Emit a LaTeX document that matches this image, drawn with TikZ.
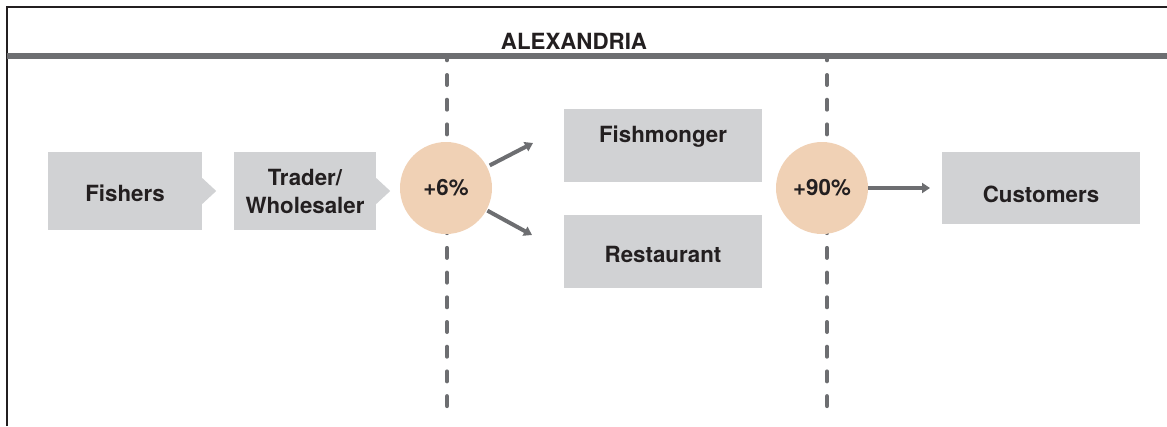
\documentclass[tikz,border=0pt]{standalone}
\usepackage{fontspec}
\setmainfont{TeX Gyre Heros}
\usetikzlibrary{arrows.meta}
\definecolor{boxgray}{HTML}{D1D2D4}
\definecolor{peach}{HTML}{F0D1B5}
\definecolor{linegray}{HTML}{6D6E71}
\definecolor{ink}{HTML}{231F20}

\begin{document}
\begin{tikzpicture}[x=1pt,y=-1pt,font=\fontsize{22.3}{28}\selectfont\bfseries,text=ink]
  \def\w{4}
  \def\tip{14}

\tikzstyle{box}=[rectangle,fill=boxgray,minimum height=78pt,inner sep=0pt,align=center]
\tikzstyle{low}=[text height=21pt,text depth=0pt]
\tikzstyle{topbox}=[box,minimum height=73pt,text height=16pt,text depth=21.5pt]
\tikzstyle{rate}=[circle,fill=peach,minimum size=92pt,inner sep=0pt]
\tikzstyle{flow}=[draw=linegray,line width=\w pt,-{Triangle[length=8pt,width=10pt]}]
\tikzstyle{divider}=[draw=linegray,line width=\w pt,line cap=round,dash pattern=on 10pt off 14.7pt,dash phase=6.7pt]

\useasboundingbox (0,0) rectangle (1167,426);
% frame and header
\draw[ink,line width=1.3pt] (7,426) -- (7,7) -- (1167,7);
\draw[divider] (447,57) -- (447,408.5);
\draw[divider] (827,57) -- (827,408.5);
\draw[linegray,line width=5.5pt] (7,56) -- (1167,56);
\node (T) at (574,41) {ALEXANDRIA};
% chain
\node[box,low,minimum width=154pt] (P1) at (125,191) {Fishers};
\fill[boxgray] ([yshift=13pt]P1.east) -- ([xshift=\tip pt]P1.east) -- ([yshift=-13pt]P1.east) -- cycle;
\node[box,minimum width=142pt] (P2) at (305,191) {Trader/\\Wholesaler};
\fill[boxgray] ([yshift=13pt]P2.east) -- ([xshift=\tip pt]P2.east) -- ([yshift=-13pt]P2.east) -- cycle;
\node[rate] (C1) at (446,188) {+6\%};
\node[topbox,minimum width=198pt] (P3) at (663,145.5) {Fishmonger};
\node[box,low,minimum width=198pt,minimum height=73pt] (P4) at (663,251.5) {Restaurant};
\node[rate] (C2) at (822,188) {+90\%};
\node[box,minimum width=198pt,minimum height=72pt,text height=28pt,text depth=0pt] (P5) at (1041,188) {Customers};
\coordinate (E1) at (533,143);
\coordinate (E2) at (532,235);
\coordinate (E3) at (930,188);
\draw[flow,shorten <=3pt] (C1) -- (E1);
\draw[flow,shorten <=1pt] (C1) -- (E2);
\draw[flow] (C2) -- (E3);
\end{tikzpicture}
\end{document}
